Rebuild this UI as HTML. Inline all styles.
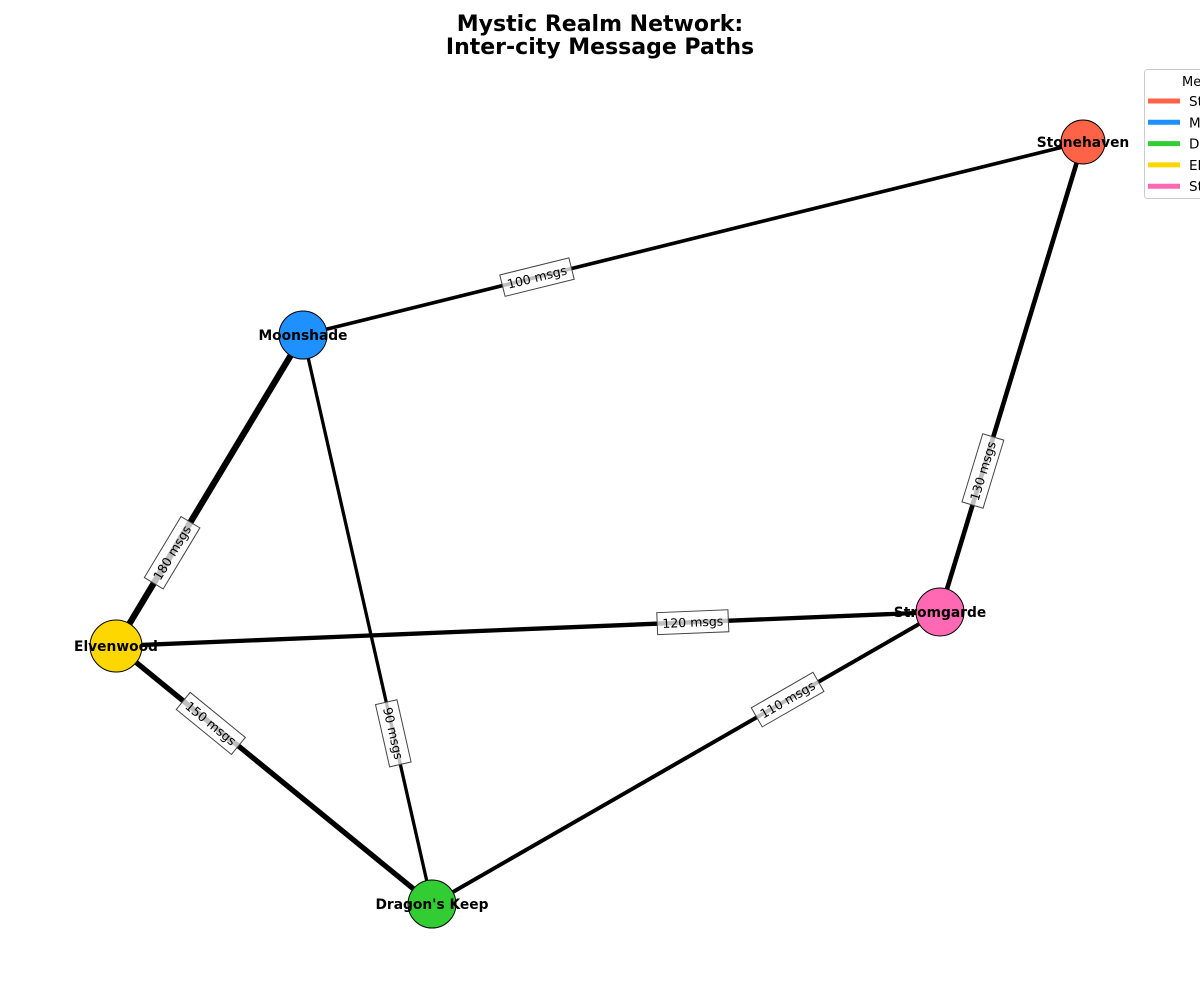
<!DOCTYPE html>
<html><head><meta charset="utf-8"><style>
body{margin:0;background:#fff}
svg text{font-family:"DejaVu Sans","Liberation Sans",sans-serif}
</style></head><body>
<svg id="chart" width="1200" height="1000" xmlns="http://www.w3.org/2000/svg">
<text x="600" y="31" text-anchor="middle" font-size="22" font-weight="bold">Mystic Realm Network:</text>
<text x="600" y="54" text-anchor="middle" font-size="22" font-weight="bold">Inter-city Message Paths</text>
<g id="edges"></g><g id="labels"></g><g id="nodes"></g>
<g>
<rect x="1144.5" y="69.5" width="70" height="129" rx="3" fill="#fff" stroke="#ccc"/>
<text x="1182" y="86" font-size="13">Me</text>
<g id="legend-items"></g>
</g>
</svg>
<script>
const nodeNames=["Stonehaven","Moonshade","Elvenwood","Dragon's Keep","Stromgarde"];
const nodeColors=["#FF6347","#1E90FF","#32CD32","#FFD700","#FF69B4"];
const nodeX=[1083,303,116,432,940];
const nodeY=[142,335,646,904,612];
const nodeR=[22,24,26,24,24];
const edgeFrom=[1,4,2,2,2,1,3];
const edgeTo=[0,0,1,4,3,3,4];
const edgeMsgs=[100,130,180,120,150,90,110];
const edgeLabelT=[0.3,0.3,0.3,0.7,0.3,0.7,0.7];
const legendLabels=["St","M","D","El","St"];
const NS="http://www.w3.org/2000/svg";
function mk(t,a,p){const e=document.createElementNS(NS,t);for(const k in a)e.setAttribute(k,a[k]);p.appendChild(e);return e;}
const colorByNode=[nodeColors[0],nodeColors[1],nodeColors[3],nodeColors[2],nodeColors[4]];
const gE=document.getElementById('edges'),gL=document.getElementById('labels'),gN=document.getElementById('nodes');
function width(m){return 3.3+(m-90)/90*3;}
edgeFrom.forEach((a,i)=>{
 const b=edgeTo[i];
 const ln=mk('line',{x1:nodeX[a],y1:nodeY[a],x2:nodeX[b],y2:nodeY[b],stroke:'#000','stroke-width':width(edgeMsgs[i])},gE);
 
 
 const t=edgeLabelT[i];
 const lx=nodeX[a]+(nodeX[b]-nodeX[a])*t, ly=nodeY[a]+(nodeY[b]-nodeY[a])*t;
 let ang=Math.atan2(nodeY[b]-nodeY[a],nodeX[b]-nodeX[a])*180/Math.PI;
 if(ang>90)ang-=180; if(ang<-90)ang+=180;
 const g=mk('g',{transform:`translate(${lx},${ly}) rotate(${ang})`},gL);
 
 
 const txt=edgeMsgs[i]+' msgs';
 const w=txt.length*7.4+12;
 mk('rect',{x:-w/2,y:-11,width:w,height:22,fill:'rgba(255,255,255,0.75)',stroke:'#444','stroke-width':1},g);
 const te=mk('text',{x:0,y:4.5,'text-anchor':'middle','font-size':12.5,fill:'#000'},g);
 te.textContent=txt;
});
nodeNames.forEach((n,i)=>{
 const c=mk('circle',{cx:nodeX[i],cy:nodeY[i],r:nodeR[i],fill:colorByNode[i],stroke:'#000','stroke-width':1},gN);
 
 
 const t=mk('text',{x:nodeX[i],y:nodeY[i]+5,'text-anchor':'middle','font-size':13.8,'font-weight':'bold'},gN);
 
 
 t.textContent=n;
});
const gLeg=document.getElementById('legend-items');
legendLabels.forEach((l,i)=>{
 const y=101+i*21.3;
 const g=mk('g',{},gLeg);
 
 
 mk('line',{x1:1148,y1:y,x2:1180,y2:y,stroke:nodeColors[i],'stroke-width':5},g);
 const t=mk('text',{x:1189,y:y+5,'font-size':13.5},g);
 t.textContent=l;
});
</script>
</body></html>
